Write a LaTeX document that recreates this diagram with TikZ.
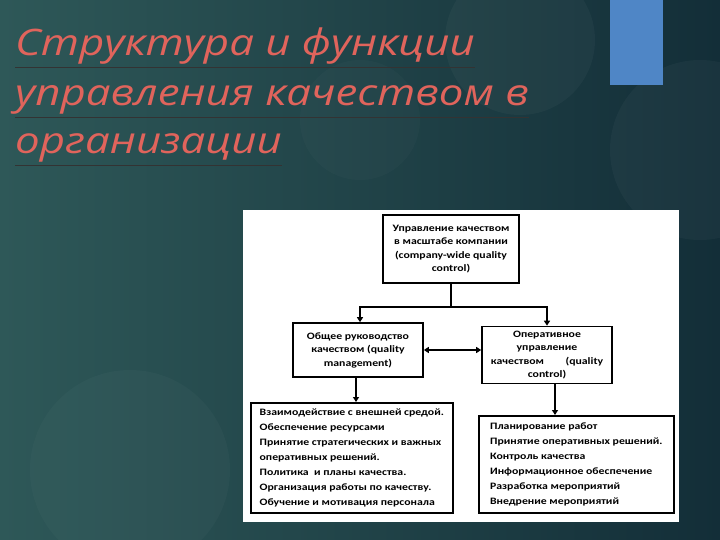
\documentclass[tikz,border=0pt]{standalone}
\usepackage{fontspec}
\setmainfont[FakeStretch=1.2]{Carlito}
\newfontfamily\titlefont[FakeStretch=1.2]{Open Sans}
\usetikzlibrary{arrows.meta}
\definecolor{bgA}{HTML}{2E5858}
\definecolor{bgB}{HTML}{132E38}
\definecolor{titlec}{HTML}{E0645C}
\definecolor{bluer}{HTML}{4F86C6}
\tikzset{
 box/.style={draw=black,line width=1.6pt,fill=white,align=center,font=\bfseries\fontsize{9.8}{13.5}\selectfont,inner sep=2pt},
 lbox/.style={draw=black,line width=1.6pt,fill=white,align=left,font=\bfseries\fontsize{9.8}{15}\selectfont,inner sep=5pt,anchor=north west},
 conn/.style={line width=1.6pt,-{Triangle[length=5pt,width=6pt]}},
 ttl/.style={anchor=base west,text=titlec,font=\titlefont\itshape\fontsize{36.5}{36}\selectfont,inner sep=0pt}
}
\begin{document}
\begin{tikzpicture}[x=1pt,y=-1pt]
\useasboundingbox (0,0) rectangle (720,540);
\shade[left color=bgA,right color=bgB] (0,0) rectangle (720,540);
\fill[white,opacity=0.03] (520,40) circle (75);
\fill[white,opacity=0.03] (700,150) circle (90);
\fill[white,opacity=0.025] (130,470) circle (100);
\fill[white,opacity=0.02] (360,120) circle (60);
\fill[bluer] (610,0) rectangle (663,85);
\node[ttl] (t1) at (15,56) {Структура и функции};
\node[ttl] (t2) at (15,106) {управления качеством в};
\node[ttl] (t3) at (15,154) {организации};
\foreach \n in {t1,t2,t3}{\draw[black!80,line width=1pt] ([yshift=-3pt]\n.south west)--([yshift=-3pt]\n.south east);}
\fill[white] (243,210) rectangle (679,522);
\node[box,minimum width=136pt,minimum height=68pt] (top) at (451,249) {Управление качеством\\в масштабе компании\\(company-wide quality\\control)};
\node[box,minimum width=130pt,minimum height=54pt] (gm) at (358,350) {Общее руководство\\качеством (quality\\management)};
\node[box,minimum width=130pt,minimum height=57pt] (qc) at (547,355) {Оперативное\\управление\\качеством\hspace{2.2em}(quality\\control)};
\node[lbox,minimum width=202pt,minimum height=110pt] (bl) at (250,402) {Взаимодействие с внешней средой.\\Обеспечение ресурсами\\Принятие стратегических и важных\\оперативных решений.\\Политика\ \ и планы качества.\\Организация работы по качеству.\\Обучение и мотивация персонала};
\node[lbox,minimum width=195pt,minimum height=97pt] (br) at (478,415) {Планирование работ\\Принятие оперативных решений.\\Контроль качества\\Информационное обеспечение\\Разработка мероприятий\\Внедрение мероприятий};
\coordinate (j) at (451,307);
\draw[line width=1.6pt] (top.south) -- (j);
\draw[conn] (j) -| ([xshift=2pt]gm.north);
\draw[conn] (j) -| (qc.north);
\draw[line width=1.6pt,{Triangle[length=5pt,width=6pt]}-{Triangle[length=5pt,width=6pt]}] (gm.east) -- (gm.east -| qc.west);
\draw[conn] ([xshift=-2pt]gm.south) -- ([xshift=-2pt]gm.south |- bl.north);
\draw[conn] ([xshift=8pt]qc.south) -- ([xshift=8pt]qc.south |- br.north);
\end{tikzpicture}
\end{document}
